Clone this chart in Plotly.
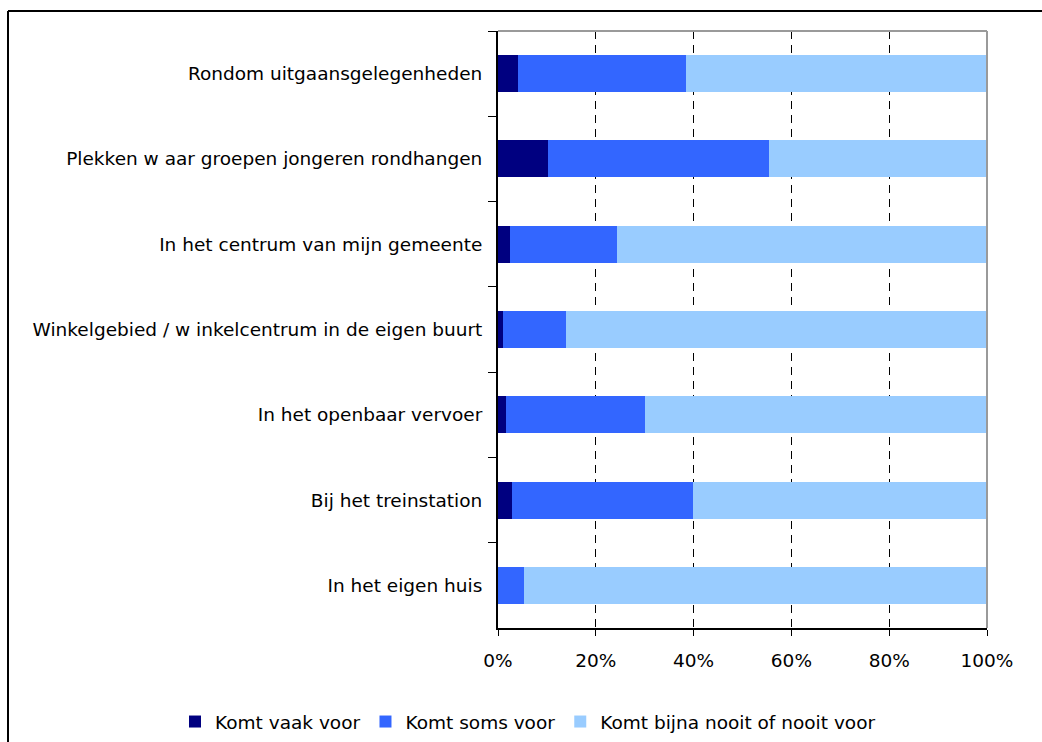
import plotly.graph_objects as go

categories = [
    "Rondom uitgaansgelegenheden",
    "Plekken w aar groepen jongeren rondhangen",
    "In het centrum van mijn gemeente",
    "Winkelgebied / w inkelcentrum in de eigen buurt",
    "In het openbaar vervoer",
    "Bij het treinstation",
    "In het eigen huis",
]
vaak = [4.1, 10.2, 2.5, 1.0, 1.6, 2.9, 0.0]
soms = [34.3, 45.2, 21.8, 12.9, 28.4, 37.0, 5.3]
nooit = [61.6, 44.6, 75.7, 86.1, 70.0, 60.1, 94.7]
x_ticks = [0, 20, 40, 60, 80, 100]
x_labels = ["0%", "20%", "40%", "60%", "80%", "100%"]

series = [
    ("Komt vaak voor", vaak, "#000080"),
    ("Komt soms voor", soms, "#3366FF"),
    ("Komt bijna nooit of nooit voor", nooit, "#99CCFF"),
]

W, H = 1042, 742
left, top, right, bottom = 498, 31, 987, 628   # plot area in px
L, T, R, B = left, top, W - right, H - bottom
pw, ph = right - left, bottom - top


def px(x):
    return (x - left) / pw


def py(y):
    return (bottom - y) / ph


fig = go.Figure()
for name, vals, col in series:
    fig.add_trace(go.Bar(y=categories, x=vals, name=name, orientation="h",
                         marker=dict(color=col, line=dict(width=0))))

font = dict(family="DejaVu Sans, Arial, sans-serif", size=18.5, color="black")

fig.update_layout(
    width=W, height=H,
    margin=dict(l=L, r=R, t=T, b=B, autoexpand=False),
    paper_bgcolor="white", plot_bgcolor="white",
    barmode="stack", bargap=0.565,
    font=font,
    showlegend=True,
    legend=dict(orientation="h", x=px(175), xanchor="left", y=py(722), yanchor="middle",
                font=font, itemwidth=30, traceorder="normal"),
    xaxis=dict(range=[0, 100], tickvals=x_ticks, ticktext=x_labels,
               showgrid=True, gridcolor="black", griddash="8px,6px", gridwidth=1,
               showline=True, linecolor="black", linewidth=2,
               ticks="outside", ticklen=6, tickcolor="black", tickwidth=1,
               ticklabelstandoff=9, zeroline=False, fixedrange=True),
    yaxis=dict(autorange="reversed", showline=True, linecolor="black", linewidth=2,
               ticks="outside", ticklen=8, tickcolor="black", tickwidth=1,
               tickson="boundaries", ticklabelstandoff=10, showgrid=False,
               fixedrange=True),
    shapes=[
        # plot area border (top and right)
        dict(type="line", xref="paper", yref="paper", x0=0, x1=1, y0=1, y1=1,
             line=dict(color="#9a9a9a", width=2)),
        dict(type="line", xref="paper", yref="paper", x0=1, x1=1, y0=0, y1=1,
             line=dict(color="#9a9a9a", width=2)),
        # outer chart frame (its right and bottom sides are off the picture)
        dict(type="line", xref="paper", yref="paper", x0=px(8), x1=px(W + 20),
             y0=py(11), y1=py(11), line=dict(color="black", width=2)),
        dict(type="line", xref="paper", yref="paper", x0=px(8), x1=px(8),
             y0=py(11), y1=py(H + 20), line=dict(color="black", width=2)),
    ],
)

# no page margin and no scrollbars, so the figure fills the window exactly
fig.write_html("out.html", config={"displayModeBar": False},
               post_script="document.body.style.margin='0';"
                           "document.body.style.overflow='hidden';")
